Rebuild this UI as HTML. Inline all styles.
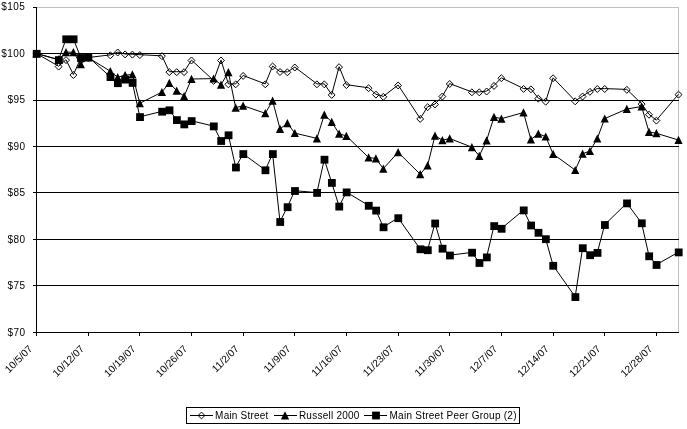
<!DOCTYPE html>
<html><head><meta charset="utf-8"><title>chart</title>
<style>
html,body{margin:0;padding:0;background:#fff;}
body{width:687px;height:429px;overflow:hidden;font-family:"Liberation Sans",sans-serif;}
svg{display:block;filter:grayscale(100%);}
text{font-family:"Liberation Sans",sans-serif;font-size:10px;fill:#000;}
</style></head><body>
<svg width="687" height="429" viewBox="0 0 687 429">
<rect x="0" y="0" width="687" height="429" fill="#fff"/>

<g shape-rendering="crispEdges">
<rect x="36" y="7" width="643" height="1" fill="#c0c0c0"/>
<rect x="678" y="7" width="1" height="326" fill="#c0c0c0"/>
<rect x="33" y="53" width="4" height="1" fill="#000"/>
<rect x="33" y="100" width="4" height="1" fill="#000"/>
<rect x="33" y="146" width="4" height="1" fill="#000"/>
<rect x="33" y="192" width="4" height="1" fill="#000"/>
<rect x="33" y="239" width="4" height="1" fill="#000"/>
<rect x="33" y="285" width="4" height="1" fill="#000"/>
<rect x="36" y="7" width="1" height="329" fill="#000"/>
<rect x="33" y="7" width="4" height="1" fill="#000"/>
<rect x="33" y="332" width="646" height="1" fill="#000"/>
<rect x="36" y="332" width="1" height="4" fill="#000"/>
<rect x="88" y="332" width="1" height="4" fill="#000"/>
<rect x="139" y="332" width="1" height="4" fill="#000"/>
<rect x="191" y="332" width="1" height="4" fill="#000"/>
<rect x="243" y="332" width="1" height="4" fill="#000"/>
<rect x="294" y="332" width="1" height="4" fill="#000"/>
<rect x="346" y="332" width="1" height="4" fill="#000"/>
<rect x="398" y="332" width="1" height="4" fill="#000"/>
<rect x="449" y="332" width="1" height="4" fill="#000"/>
<rect x="501" y="332" width="1" height="4" fill="#000"/>
<rect x="553" y="332" width="1" height="4" fill="#000"/>
<rect x="604" y="332" width="1" height="4" fill="#000"/>
<rect x="656" y="332" width="1" height="4" fill="#000"/>
</g>
<text x="1.3" y="10" style="font-size:10px;letter-spacing:0.44px">$105</text>
<text x="1.3" y="57" style="font-size:10px;letter-spacing:0.44px">$100</text>
<text x="7.4" y="103" style="font-size:10px;letter-spacing:0.44px">$95</text>
<text x="7.4" y="150" style="font-size:10px;letter-spacing:0.44px">$90</text>
<text x="7.4" y="196" style="font-size:10px;letter-spacing:0.44px">$85</text>
<text x="7.4" y="243" style="font-size:10px;letter-spacing:0.44px">$80</text>
<text x="7.4" y="289" style="font-size:10px;letter-spacing:0.44px">$75</text>
<text x="7.4" y="336" style="font-size:10px;letter-spacing:0.44px">$70</text>
<text transform="translate(33.0,349.5) rotate(-45)" text-anchor="end" style="font-size:10.2px">10/5/07</text>
<text transform="translate(84.7,349.5) rotate(-45)" text-anchor="end" style="font-size:10.2px">10/12/07</text>
<text transform="translate(136.3,349.5) rotate(-45)" text-anchor="end" style="font-size:10.2px">10/19/07</text>
<text transform="translate(188.0,349.5) rotate(-45)" text-anchor="end" style="font-size:10.2px">10/26/07</text>
<text transform="translate(239.6,349.5) rotate(-45)" text-anchor="end" style="font-size:10.2px">11/2/07</text>
<text transform="translate(291.3,349.5) rotate(-45)" text-anchor="end" style="font-size:10.2px">11/9/07</text>
<text transform="translate(342.9,349.5) rotate(-45)" text-anchor="end" style="font-size:10.2px">11/16/07</text>
<text transform="translate(394.6,349.5) rotate(-45)" text-anchor="end" style="font-size:10.2px">11/23/07</text>
<text transform="translate(446.2,349.5) rotate(-45)" text-anchor="end" style="font-size:10.2px">11/30/07</text>
<text transform="translate(497.9,349.5) rotate(-45)" text-anchor="end" style="font-size:10.2px">12/7/07</text>
<text transform="translate(549.6,349.5) rotate(-45)" text-anchor="end" style="font-size:10.2px">12/14/07</text>
<text transform="translate(601.2,349.5) rotate(-45)" text-anchor="end" style="font-size:10.2px">12/21/07</text>
<text transform="translate(652.9,349.5) rotate(-45)" text-anchor="end" style="font-size:10.2px">12/28/07</text>
<polyline points="36.5,53.5 58.6,66.2 66.0,59.7 73.4,74.6 80.8,58.0 88.2,57.5 110.3,54.9 117.7,52.1 125.1,54.0 132.4,54.2 139.8,54.7 161.9,55.8 169.3,71.7 176.7,71.7 184.1,71.7 191.5,60.1 213.6,80.5 221.0,60.1 228.4,83.9 235.7,83.9 243.1,75.5 265.3,83.9 272.6,66.0 280.0,71.6 287.4,71.9 294.8,67.1 316.9,83.9 324.3,83.9 331.7,94.5 339.1,66.7 346.4,84.7 368.6,87.8 375.9,94.2 383.3,96.4 398.1,85.0 420.2,118.5 427.6,106.8 435.0,104.0 442.4,96.1 449.7,83.6 471.9,91.9 479.3,91.9 486.6,91.1 494.0,85.5 501.4,77.8 523.5,88.5 530.9,88.9 538.3,98.2 545.7,101.3 553.1,77.8 575.2,100.9 582.6,96.1 589.9,91.4 597.3,88.6 604.7,88.6 626.8,89.4 641.6,103.7 649.0,114.3 656.4,120.2 678.5,94.2" fill="none" stroke="#000" stroke-width="1"/>
<path d="M36.5,50.4 L40.0,53.9 L36.5,57.4 L33.0,53.9 Z" fill="none" stroke="#000" stroke-width="1"/>
<path d="M58.6,63.2 L62.1,66.6 L58.6,70.1 L55.2,66.6 Z" fill="none" stroke="#000" stroke-width="1"/>
<path d="M66.0,56.6 L69.5,60.1 L66.0,63.6 L62.6,60.1 Z" fill="none" stroke="#000" stroke-width="1"/>
<path d="M73.4,71.5 L76.8,75.0 L73.4,78.5 L69.9,75.0 Z" fill="none" stroke="#000" stroke-width="1"/>
<path d="M80.8,54.9 L84.2,58.4 L80.8,61.9 L77.3,58.4 Z" fill="none" stroke="#000" stroke-width="1"/>
<path d="M88.2,54.4 L91.6,57.9 L88.2,61.4 L84.7,57.9 Z" fill="none" stroke="#000" stroke-width="1"/>
<path d="M110.3,51.8 L113.7,55.3 L110.3,58.8 L106.8,55.3 Z" fill="none" stroke="#000" stroke-width="1"/>
<path d="M117.7,49.0 L121.1,52.5 L117.7,56.0 L114.2,52.5 Z" fill="none" stroke="#000" stroke-width="1"/>
<path d="M125.1,50.9 L128.5,54.4 L125.1,57.9 L121.6,54.4 Z" fill="none" stroke="#000" stroke-width="1"/>
<path d="M132.4,51.1 L135.9,54.6 L132.4,58.1 L129.0,54.6 Z" fill="none" stroke="#000" stroke-width="1"/>
<path d="M139.8,51.6 L143.3,55.1 L139.8,58.6 L136.4,55.1 Z" fill="none" stroke="#000" stroke-width="1"/>
<path d="M161.9,52.7 L165.4,56.2 L161.9,59.6 L158.5,56.2 Z" fill="none" stroke="#000" stroke-width="1"/>
<path d="M169.3,68.7 L172.8,72.1 L169.3,75.6 L165.9,72.1 Z" fill="none" stroke="#000" stroke-width="1"/>
<path d="M176.7,68.7 L180.2,72.1 L176.7,75.6 L173.3,72.1 Z" fill="none" stroke="#000" stroke-width="1"/>
<path d="M184.1,68.7 L187.5,72.1 L184.1,75.6 L180.6,72.1 Z" fill="none" stroke="#000" stroke-width="1"/>
<path d="M191.5,57.0 L194.9,60.5 L191.5,64.0 L188.0,60.5 Z" fill="none" stroke="#000" stroke-width="1"/>
<path d="M213.6,77.5 L217.1,80.9 L213.6,84.4 L210.2,80.9 Z" fill="none" stroke="#000" stroke-width="1"/>
<path d="M221.0,57.0 L224.4,60.5 L221.0,64.0 L217.5,60.5 Z" fill="none" stroke="#000" stroke-width="1"/>
<path d="M228.4,80.9 L231.8,84.3 L228.4,87.8 L224.9,84.3 Z" fill="none" stroke="#000" stroke-width="1"/>
<path d="M235.7,80.9 L239.2,84.3 L235.7,87.8 L232.3,84.3 Z" fill="none" stroke="#000" stroke-width="1"/>
<path d="M243.1,72.5 L246.6,75.9 L243.1,79.4 L239.7,75.9 Z" fill="none" stroke="#000" stroke-width="1"/>
<path d="M265.3,80.9 L268.7,84.3 L265.3,87.8 L261.8,84.3 Z" fill="none" stroke="#000" stroke-width="1"/>
<path d="M272.6,63.0 L276.1,66.4 L272.6,69.9 L269.2,66.4 Z" fill="none" stroke="#000" stroke-width="1"/>
<path d="M280.0,68.5 L283.5,72.0 L280.0,75.5 L276.6,72.0 Z" fill="none" stroke="#000" stroke-width="1"/>
<path d="M287.4,68.9 L290.8,72.3 L287.4,75.8 L283.9,72.3 Z" fill="none" stroke="#000" stroke-width="1"/>
<path d="M294.8,64.0 L298.2,67.5 L294.8,71.0 L291.3,67.5 Z" fill="none" stroke="#000" stroke-width="1"/>
<path d="M316.9,80.9 L320.4,84.3 L316.9,87.8 L313.5,84.3 Z" fill="none" stroke="#000" stroke-width="1"/>
<path d="M324.3,80.9 L327.7,84.3 L324.3,87.8 L320.8,84.3 Z" fill="none" stroke="#000" stroke-width="1"/>
<path d="M331.7,91.5 L335.1,94.9 L331.7,98.4 L328.2,94.9 Z" fill="none" stroke="#000" stroke-width="1"/>
<path d="M339.1,63.7 L342.5,67.1 L339.1,70.6 L335.6,67.1 Z" fill="none" stroke="#000" stroke-width="1"/>
<path d="M346.4,81.7 L349.9,85.1 L346.4,88.6 L343.0,85.1 Z" fill="none" stroke="#000" stroke-width="1"/>
<path d="M368.6,84.8 L372.0,88.2 L368.6,91.7 L365.1,88.2 Z" fill="none" stroke="#000" stroke-width="1"/>
<path d="M375.9,91.2 L379.4,94.6 L375.9,98.1 L372.5,94.6 Z" fill="none" stroke="#000" stroke-width="1"/>
<path d="M383.3,93.4 L386.8,96.8 L383.3,100.3 L379.9,96.8 Z" fill="none" stroke="#000" stroke-width="1"/>
<path d="M398.1,82.0 L401.5,85.4 L398.1,88.9 L394.6,85.4 Z" fill="none" stroke="#000" stroke-width="1"/>
<path d="M420.2,115.5 L423.7,118.9 L420.2,122.4 L416.8,118.9 Z" fill="none" stroke="#000" stroke-width="1"/>
<path d="M427.6,103.8 L431.1,107.2 L427.6,110.7 L424.2,107.2 Z" fill="none" stroke="#000" stroke-width="1"/>
<path d="M435.0,101.0 L438.4,104.4 L435.0,107.9 L431.5,104.4 Z" fill="none" stroke="#000" stroke-width="1"/>
<path d="M442.4,93.0 L445.8,96.5 L442.4,100.0 L438.9,96.5 Z" fill="none" stroke="#000" stroke-width="1"/>
<path d="M449.7,80.5 L453.2,84.0 L449.7,87.5 L446.3,84.0 Z" fill="none" stroke="#000" stroke-width="1"/>
<path d="M471.9,88.9 L475.3,92.3 L471.9,95.8 L468.4,92.3 Z" fill="none" stroke="#000" stroke-width="1"/>
<path d="M479.3,88.9 L482.7,92.3 L479.3,95.8 L475.8,92.3 Z" fill="none" stroke="#000" stroke-width="1"/>
<path d="M486.6,88.0 L490.1,91.5 L486.6,95.0 L483.2,91.5 Z" fill="none" stroke="#000" stroke-width="1"/>
<path d="M494.0,82.5 L497.5,85.9 L494.0,89.4 L490.6,85.9 Z" fill="none" stroke="#000" stroke-width="1"/>
<path d="M501.4,74.8 L504.8,78.2 L501.4,81.7 L497.9,78.2 Z" fill="none" stroke="#000" stroke-width="1"/>
<path d="M523.5,85.5 L527.0,88.9 L523.5,92.4 L520.1,88.9 Z" fill="none" stroke="#000" stroke-width="1"/>
<path d="M530.9,85.9 L534.4,89.3 L530.9,92.8 L527.5,89.3 Z" fill="none" stroke="#000" stroke-width="1"/>
<path d="M538.3,95.2 L541.7,98.6 L538.3,102.1 L534.8,98.6 Z" fill="none" stroke="#000" stroke-width="1"/>
<path d="M545.7,98.2 L549.1,101.7 L545.7,105.2 L542.2,101.7 Z" fill="none" stroke="#000" stroke-width="1"/>
<path d="M553.1,74.8 L556.5,78.2 L553.1,81.7 L549.6,78.2 Z" fill="none" stroke="#000" stroke-width="1"/>
<path d="M575.2,97.9 L578.6,101.3 L575.2,104.8 L571.7,101.3 Z" fill="none" stroke="#000" stroke-width="1"/>
<path d="M582.6,93.0 L586.0,96.5 L582.6,100.0 L579.1,96.5 Z" fill="none" stroke="#000" stroke-width="1"/>
<path d="M589.9,88.4 L593.4,91.8 L589.9,95.3 L586.5,91.8 Z" fill="none" stroke="#000" stroke-width="1"/>
<path d="M597.3,85.5 L600.8,89.0 L597.3,92.5 L593.9,89.0 Z" fill="none" stroke="#000" stroke-width="1"/>
<path d="M604.7,85.5 L608.2,89.0 L604.7,92.5 L601.3,89.0 Z" fill="none" stroke="#000" stroke-width="1"/>
<path d="M626.8,86.4 L630.3,89.8 L626.8,93.3 L623.4,89.8 Z" fill="none" stroke="#000" stroke-width="1"/>
<path d="M641.6,100.7 L645.1,104.1 L641.6,107.6 L638.2,104.1 Z" fill="none" stroke="#000" stroke-width="1"/>
<path d="M649.0,111.2 L652.4,114.7 L649.0,118.2 L645.5,114.7 Z" fill="none" stroke="#000" stroke-width="1"/>
<path d="M656.4,117.2 L659.8,120.6 L656.4,124.1 L652.9,120.6 Z" fill="none" stroke="#000" stroke-width="1"/>
<path d="M678.5,91.2 L682.0,94.6 L678.5,98.1 L675.0,94.6 Z" fill="none" stroke="#000" stroke-width="1"/>
<g shape-rendering="crispEdges">
<rect x="36" y="53" width="643" height="1" fill="#000"/>
<rect x="36" y="100" width="643" height="1" fill="#000"/>
<rect x="36" y="146" width="643" height="1" fill="#000"/>
<rect x="36" y="192" width="643" height="1" fill="#000"/>
<rect x="36" y="239" width="643" height="1" fill="#000"/>
<rect x="36" y="285" width="643" height="1" fill="#000"/>
</g>
<polyline points="36.5,53.5 58.6,59.5 66.0,52.2 73.4,52.2 80.8,64.2 88.2,57.6 110.3,71.2 117.7,77.3 125.1,75.1 132.4,74.5 139.8,103.3 161.9,92.1 169.3,82.9 176.7,90.7 184.1,96.2 191.5,79.0 213.6,78.6 221.0,84.7 228.4,72.2 235.7,107.7 243.1,105.7 265.3,113.3 272.6,100.7 280.0,128.9 287.4,123.3 294.8,133.1 316.9,138.4 324.3,114.7 331.7,121.9 339.1,133.7 346.4,136.0 368.6,157.5 375.9,158.5 383.3,168.7 398.1,152.3 420.2,174.2 427.6,165.4 435.0,135.7 442.4,140.2 449.7,138.5 471.9,147.2 479.3,155.9 486.6,140.4 494.0,117.0 501.4,118.7 523.5,112.5 530.9,139.5 538.3,133.7 545.7,136.6 553.1,154.0 575.2,170.1 582.6,153.7 589.9,151.1 597.3,138.6 604.7,118.6 626.8,109.0 641.6,106.5 649.0,131.9 656.4,133.3 678.5,140.0" fill="none" stroke="#000" stroke-width="1"/>
<path d="M36.5,49.3 L40.6,57.5 L32.4,57.5 Z" fill="#000"/>
<path d="M58.6,55.3 L62.7,63.5 L54.5,63.5 Z" fill="#000"/>
<path d="M66.0,48.0 L70.1,56.2 L61.9,56.2 Z" fill="#000"/>
<path d="M73.4,48.0 L77.5,56.2 L69.3,56.2 Z" fill="#000"/>
<path d="M80.8,60.0 L84.9,68.2 L76.7,68.2 Z" fill="#000"/>
<path d="M88.2,53.4 L92.3,61.6 L84.1,61.6 Z" fill="#000"/>
<path d="M110.3,67.0 L114.4,75.2 L106.2,75.2 Z" fill="#000"/>
<path d="M117.7,73.1 L121.8,81.3 L113.6,81.3 Z" fill="#000"/>
<path d="M125.1,70.9 L129.2,79.1 L121.0,79.1 Z" fill="#000"/>
<path d="M132.4,70.3 L136.5,78.5 L128.3,78.5 Z" fill="#000"/>
<path d="M139.8,99.1 L143.9,107.3 L135.7,107.3 Z" fill="#000"/>
<path d="M161.9,87.9 L166.0,96.1 L157.8,96.1 Z" fill="#000"/>
<path d="M169.3,78.7 L173.4,86.9 L165.2,86.9 Z" fill="#000"/>
<path d="M176.7,86.5 L180.8,94.7 L172.6,94.7 Z" fill="#000"/>
<path d="M184.1,92.0 L188.2,100.2 L180.0,100.2 Z" fill="#000"/>
<path d="M191.5,74.8 L195.6,83.0 L187.4,83.0 Z" fill="#000"/>
<path d="M213.6,74.4 L217.7,82.6 L209.5,82.6 Z" fill="#000"/>
<path d="M221.0,80.5 L225.1,88.7 L216.9,88.7 Z" fill="#000"/>
<path d="M228.4,68.0 L232.5,76.2 L224.3,76.2 Z" fill="#000"/>
<path d="M235.7,103.5 L239.8,111.7 L231.6,111.7 Z" fill="#000"/>
<path d="M243.1,101.5 L247.2,109.7 L239.0,109.7 Z" fill="#000"/>
<path d="M265.3,109.1 L269.4,117.3 L261.2,117.3 Z" fill="#000"/>
<path d="M272.6,96.5 L276.7,104.7 L268.5,104.7 Z" fill="#000"/>
<path d="M280.0,124.7 L284.1,132.9 L275.9,132.9 Z" fill="#000"/>
<path d="M287.4,119.1 L291.5,127.3 L283.3,127.3 Z" fill="#000"/>
<path d="M294.8,128.9 L298.9,137.1 L290.7,137.1 Z" fill="#000"/>
<path d="M316.9,134.2 L321.0,142.4 L312.8,142.4 Z" fill="#000"/>
<path d="M324.3,110.5 L328.4,118.7 L320.2,118.7 Z" fill="#000"/>
<path d="M331.7,117.7 L335.8,125.9 L327.6,125.9 Z" fill="#000"/>
<path d="M339.1,129.5 L343.2,137.7 L335.0,137.7 Z" fill="#000"/>
<path d="M346.4,131.8 L350.5,140.0 L342.3,140.0 Z" fill="#000"/>
<path d="M368.6,153.3 L372.7,161.5 L364.5,161.5 Z" fill="#000"/>
<path d="M375.9,154.3 L380.0,162.5 L371.8,162.5 Z" fill="#000"/>
<path d="M383.3,164.5 L387.4,172.7 L379.2,172.7 Z" fill="#000"/>
<path d="M398.1,148.1 L402.2,156.3 L394.0,156.3 Z" fill="#000"/>
<path d="M420.2,170.0 L424.3,178.2 L416.1,178.2 Z" fill="#000"/>
<path d="M427.6,161.2 L431.7,169.4 L423.5,169.4 Z" fill="#000"/>
<path d="M435.0,131.5 L439.1,139.7 L430.9,139.7 Z" fill="#000"/>
<path d="M442.4,136.0 L446.5,144.2 L438.3,144.2 Z" fill="#000"/>
<path d="M449.7,134.3 L453.8,142.5 L445.6,142.5 Z" fill="#000"/>
<path d="M471.9,143.0 L476.0,151.2 L467.8,151.2 Z" fill="#000"/>
<path d="M479.3,151.7 L483.4,159.9 L475.2,159.9 Z" fill="#000"/>
<path d="M486.6,136.2 L490.7,144.4 L482.5,144.4 Z" fill="#000"/>
<path d="M494.0,112.8 L498.1,121.0 L489.9,121.0 Z" fill="#000"/>
<path d="M501.4,114.5 L505.5,122.7 L497.3,122.7 Z" fill="#000"/>
<path d="M523.5,108.3 L527.6,116.5 L519.4,116.5 Z" fill="#000"/>
<path d="M530.9,135.3 L535.0,143.5 L526.8,143.5 Z" fill="#000"/>
<path d="M538.3,129.5 L542.4,137.7 L534.2,137.7 Z" fill="#000"/>
<path d="M545.7,132.4 L549.8,140.6 L541.6,140.6 Z" fill="#000"/>
<path d="M553.1,149.8 L557.2,158.0 L549.0,158.0 Z" fill="#000"/>
<path d="M575.2,165.9 L579.3,174.1 L571.1,174.1 Z" fill="#000"/>
<path d="M582.6,149.5 L586.7,157.7 L578.5,157.7 Z" fill="#000"/>
<path d="M589.9,146.9 L594.0,155.1 L585.8,155.1 Z" fill="#000"/>
<path d="M597.3,134.4 L601.4,142.6 L593.2,142.6 Z" fill="#000"/>
<path d="M604.7,114.4 L608.8,122.6 L600.6,122.6 Z" fill="#000"/>
<path d="M626.8,104.8 L630.9,113.0 L622.7,113.0 Z" fill="#000"/>
<path d="M641.6,102.3 L645.7,110.5 L637.5,110.5 Z" fill="#000"/>
<path d="M649.0,127.7 L653.1,135.9 L644.9,135.9 Z" fill="#000"/>
<path d="M656.4,129.1 L660.5,137.3 L652.3,137.3 Z" fill="#000"/>
<path d="M678.5,135.8 L682.6,144.0 L674.4,144.0 Z" fill="#000"/>
<polyline points="36.5,53.5 58.6,59.8 66.0,39.0 73.4,39.0 80.8,57.7 88.2,56.9 110.3,76.8 117.7,82.9 125.1,79.3 132.4,82.6 139.8,116.8 161.9,111.4 169.3,110.0 176.7,119.8 184.1,124.1 191.5,120.8 213.6,126.1 221.0,140.7 228.4,135.0 235.7,167.2 243.1,153.8 265.3,170.0 272.6,153.8 280.0,221.7 287.4,206.9 294.8,190.7 316.9,192.6 324.3,159.4 331.7,182.6 339.1,206.3 346.4,192.1 368.6,205.5 375.9,210.3 383.3,227.0 398.1,217.9 420.2,249.0 427.6,249.9 435.0,223.2 442.4,248.4 449.7,255.2 471.9,252.4 479.3,262.7 486.6,257.1 494.0,225.8 501.4,228.5 523.5,210.1 530.9,225.2 538.3,232.5 545.7,238.9 553.1,265.5 575.2,296.8 582.6,247.9 589.9,254.9 597.3,252.6 604.7,224.7 626.8,203.1 641.6,223.0 649.0,256.0 656.4,264.7 678.5,252.1" fill="none" stroke="#000" stroke-width="1"/>
<rect x="32.80" y="49.90" width="7.8" height="7.8" fill="#000"/>
<rect x="54.94" y="56.20" width="7.8" height="7.8" fill="#000"/>
<rect x="62.32" y="35.40" width="7.8" height="7.8" fill="#000"/>
<rect x="69.70" y="35.40" width="7.8" height="7.8" fill="#000"/>
<rect x="77.08" y="54.10" width="7.8" height="7.8" fill="#000"/>
<rect x="84.46" y="53.30" width="7.8" height="7.8" fill="#000"/>
<rect x="106.59" y="73.20" width="7.8" height="7.8" fill="#000"/>
<rect x="113.97" y="79.30" width="7.8" height="7.8" fill="#000"/>
<rect x="121.35" y="75.70" width="7.8" height="7.8" fill="#000"/>
<rect x="128.73" y="79.00" width="7.8" height="7.8" fill="#000"/>
<rect x="136.11" y="113.20" width="7.8" height="7.8" fill="#000"/>
<rect x="158.25" y="107.80" width="7.8" height="7.8" fill="#000"/>
<rect x="165.63" y="106.40" width="7.8" height="7.8" fill="#000"/>
<rect x="173.01" y="116.20" width="7.8" height="7.8" fill="#000"/>
<rect x="180.39" y="120.50" width="7.8" height="7.8" fill="#000"/>
<rect x="187.77" y="117.20" width="7.8" height="7.8" fill="#000"/>
<rect x="209.90" y="122.50" width="7.8" height="7.8" fill="#000"/>
<rect x="217.28" y="137.10" width="7.8" height="7.8" fill="#000"/>
<rect x="224.66" y="131.40" width="7.8" height="7.8" fill="#000"/>
<rect x="232.04" y="163.60" width="7.8" height="7.8" fill="#000"/>
<rect x="239.42" y="150.20" width="7.8" height="7.8" fill="#000"/>
<rect x="261.56" y="166.40" width="7.8" height="7.8" fill="#000"/>
<rect x="268.94" y="150.20" width="7.8" height="7.8" fill="#000"/>
<rect x="276.32" y="218.10" width="7.8" height="7.8" fill="#000"/>
<rect x="283.70" y="203.30" width="7.8" height="7.8" fill="#000"/>
<rect x="291.08" y="187.10" width="7.8" height="7.8" fill="#000"/>
<rect x="313.21" y="189.00" width="7.8" height="7.8" fill="#000"/>
<rect x="320.59" y="155.80" width="7.8" height="7.8" fill="#000"/>
<rect x="327.97" y="179.00" width="7.8" height="7.8" fill="#000"/>
<rect x="335.35" y="202.70" width="7.8" height="7.8" fill="#000"/>
<rect x="342.73" y="188.50" width="7.8" height="7.8" fill="#000"/>
<rect x="364.87" y="201.90" width="7.8" height="7.8" fill="#000"/>
<rect x="372.25" y="206.70" width="7.8" height="7.8" fill="#000"/>
<rect x="379.63" y="223.40" width="7.8" height="7.8" fill="#000"/>
<rect x="394.39" y="214.30" width="7.8" height="7.8" fill="#000"/>
<rect x="416.52" y="245.40" width="7.8" height="7.8" fill="#000"/>
<rect x="423.90" y="246.30" width="7.8" height="7.8" fill="#000"/>
<rect x="431.28" y="219.60" width="7.8" height="7.8" fill="#000"/>
<rect x="438.66" y="244.80" width="7.8" height="7.8" fill="#000"/>
<rect x="446.04" y="251.60" width="7.8" height="7.8" fill="#000"/>
<rect x="468.18" y="248.80" width="7.8" height="7.8" fill="#000"/>
<rect x="475.56" y="259.10" width="7.8" height="7.8" fill="#000"/>
<rect x="482.94" y="253.50" width="7.8" height="7.8" fill="#000"/>
<rect x="490.32" y="222.20" width="7.8" height="7.8" fill="#000"/>
<rect x="497.70" y="224.90" width="7.8" height="7.8" fill="#000"/>
<rect x="519.83" y="206.50" width="7.8" height="7.8" fill="#000"/>
<rect x="527.21" y="221.60" width="7.8" height="7.8" fill="#000"/>
<rect x="534.59" y="228.90" width="7.8" height="7.8" fill="#000"/>
<rect x="541.97" y="235.30" width="7.8" height="7.8" fill="#000"/>
<rect x="549.35" y="261.90" width="7.8" height="7.8" fill="#000"/>
<rect x="571.49" y="293.20" width="7.8" height="7.8" fill="#000"/>
<rect x="578.87" y="244.30" width="7.8" height="7.8" fill="#000"/>
<rect x="586.25" y="251.30" width="7.8" height="7.8" fill="#000"/>
<rect x="593.63" y="249.00" width="7.8" height="7.8" fill="#000"/>
<rect x="601.01" y="221.10" width="7.8" height="7.8" fill="#000"/>
<rect x="623.14" y="199.50" width="7.8" height="7.8" fill="#000"/>
<rect x="637.90" y="219.40" width="7.8" height="7.8" fill="#000"/>
<rect x="645.28" y="252.40" width="7.8" height="7.8" fill="#000"/>
<rect x="652.66" y="261.10" width="7.8" height="7.8" fill="#000"/>
<rect x="674.80" y="248.50" width="7.8" height="7.8" fill="#000"/>
<rect x="186.5" y="407.5" width="333" height="16" fill="#fff" stroke="#000" stroke-width="1" shape-rendering="crispEdges"/>
<line x1="190" y1="415.5" x2="213" y2="415.5" stroke="#000" stroke-width="1" shape-rendering="crispEdges"/>
<path d="M201.5,412.1 L204.9,415.5 L201.5,418.9 L198.1,415.5 Z" fill="none" stroke="#000" stroke-width="1"/>
<text x="215.1" y="419.3" textLength="53.2" lengthAdjust="spacing" style="font-size:10px">Main Street</text>
<line x1="273.5" y1="415.5" x2="296.5" y2="415.5" stroke="#000" stroke-width="1" shape-rendering="crispEdges"/>
<path d="M285.0,411.3 L289.1,419.5 L280.9,419.5 Z" fill="#000"/>
<text x="298.9" y="419.3" textLength="60.5" lengthAdjust="spacing" style="font-size:10px">Russell 2000</text>
<line x1="364" y1="415.5" x2="386.5" y2="415.5" stroke="#000" stroke-width="1" shape-rendering="crispEdges"/>
<rect x="372.10" y="411.60" width="7.8" height="7.8" fill="#000"/>
<text x="389.5" y="419.3" textLength="127" lengthAdjust="spacing" style="font-size:10px">Main Street Peer Group (2)</text>
</svg></body></html>
